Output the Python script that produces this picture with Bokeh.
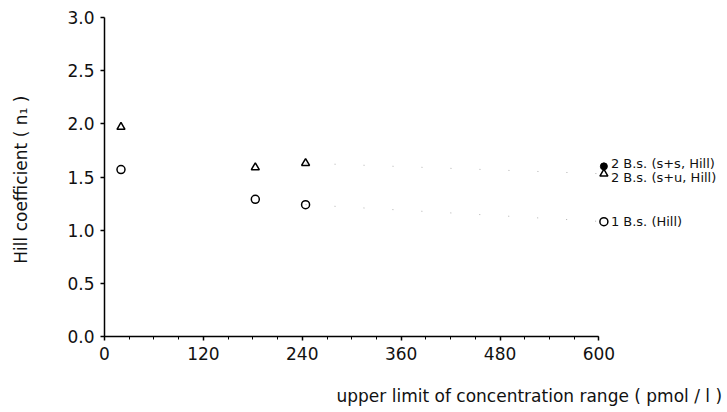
from bokeh.plotting import figure
from bokeh.models import Range1d, SingleIntervalTicker, PrintfTickFormatter, Title
from bokeh.core.properties import value
from bokeh.embed import file_html
from bokeh.resources import INLINE

# data
x_conc = [20, 183, 244, 606]
n1_one_bs = [1.57, 1.29, 1.24, 1.08]          # 1 B.s. (Hill)  open circles
n1_two_su = [1.97, 1.59, 1.63, 1.53]          # 2 B.s. (s+u, Hill) open triangles
x_ss = [606]
n1_two_ss = [1.60]                             # 2 B.s. (s+s, Hill) filled circle
legend_labels = ["2 B.s. (s+s, Hill)", "2 B.s. (s+u, Hill)", "1 B.s. (Hill)"]
x_ticks_interval = 120
y_ticks_interval = 0.5

FONT = "DejaVu Sans"
X_END = 756

p = figure(width=727, height=406, output_backend="svg", toolbar_location=None,
           x_range=Range1d(0, X_END), y_range=Range1d(0, 3.0),
           min_border_left=104, min_border_right=0, min_border_top=17, min_border_bottom=70)
p.outline_line_color = None
p.xgrid.visible = False
p.ygrid.visible = False

# axes
p.xaxis.ticker = SingleIntervalTicker(interval=x_ticks_interval, num_minor_ticks=4)
p.xaxis.bounds = (0, 600)
p.yaxis.ticker = SingleIntervalTicker(interval=y_ticks_interval, num_minor_ticks=0)
p.yaxis.formatter = PrintfTickFormatter(format="%.1f")
for ax in (p.xaxis, p.yaxis):
    ax.axis_line_color = "black"
    ax.axis_line_width = 1.5
    ax.major_tick_line_color = "black"
    ax.major_tick_line_width = 1.5
    ax.major_tick_out = 4
    ax.major_tick_in = 0
    ax.minor_tick_line_color = "black"
    ax.minor_tick_out = 3
    ax.minor_tick_in = 0
    ax.major_label_text_font = FONT
    ax.major_label_text_font_size = "17px"
    ax.major_label_text_color = "#111111"
    ax.axis_label_text_font = FONT
    ax.axis_label_text_font_size = "17px"
    ax.axis_label_text_font_style = "normal"
    ax.axis_label_text_color = "#111111"
p.xaxis.major_label_standoff = 6
p.yaxis.major_label_standoff = 6
p.yaxis.axis_label = "Hill coefficient  ( n\u2081 )"
p.yaxis.axis_label_standoff = 33
p.xaxis.axis_label = " "
p.xaxis.axis_label_standoff = 0
p.xaxis.axis_label_text_font_size = "15px"

p.add_layout(Title(text="upper limit of concentration range  ( pmol / l )", align="right",
                   text_font=FONT, text_font_size="17px", text_font_style="normal",
                   text_color="#111111", standoff=0), "below")

# faint dotted connections between last points
p.line(x_conc[2:], n1_two_su[2:], line_color="#b0b0b0", line_width=1, line_dash="1 28")
p.line(x_conc[2:], n1_one_bs[2:], line_color="#b0b0b0", line_width=1, line_dash="1 28")

# markers
p.scatter(x_conc, n1_two_su, marker="triangle", size=8, fill_color=None,
          line_color="black", line_width=1.5)
p.scatter(x_conc, n1_one_bs, marker="circle", size=8, fill_color=None,
          line_color="black", line_width=1.5)
p.scatter(x_ss, n1_two_ss, marker="circle", size=7, fill_color="black",
          line_color="black", line_width=1)

# series labels at right
lab_y = [n1_two_ss[-1], n1_two_su[-1], n1_one_bs[-1]]
lab_dy = [-3, 4, 0]
for txt, yy, dy in zip(legend_labels, lab_y, lab_dy):
    p.text(x=[x_conc[-1]], y=[yy], text=[txt], x_offset=7, y_offset=dy,
           text_font=value(FONT), text_font_size="13px",
           text_baseline="middle", text_color="#111111")

open("out.html", "w").write(file_html(p, INLINE))
